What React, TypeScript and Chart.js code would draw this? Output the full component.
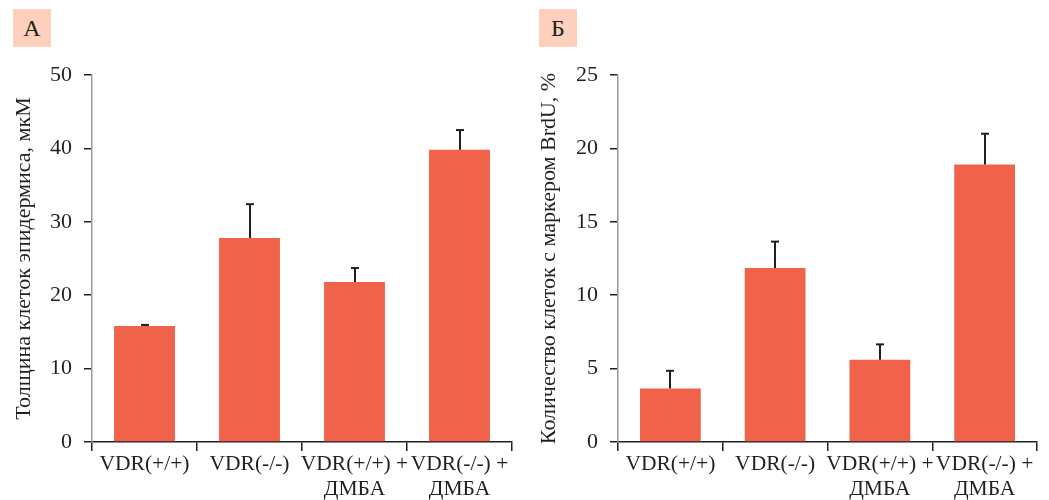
import React, { useEffect, useRef } from "react";
import { Chart, registerables } from "chart.js";

Chart.register(...registerables);

const categories: (string | string[])[] = [
  "VDR(+/+)",
  "VDR(-/-)",
  ["VDR(+/+) +", "ДМБА"],
  ["VDR(-/-) +", "ДМБА"],
];

const thicknessValues = [15.8, 27.8, 21.8, 39.8];
const thicknessErrors = [0.15, 4.6, 1.9, 2.7];

const brduValues = [3.65, 11.85, 5.6, 18.9];
const brduErrors = [1.2, 1.8, 1.05, 2.1];

const thicknessTitle = "Толщина клеток эпидермиса, мкМ";
const brduTitle = "Количество клеток с маркером BrdU, %";

const FONT = "'Liberation Serif', 'Times New Roman', serif";
const TEXT = "#231f20";
const BAR = "#f0624a";
const LABEL_BG = "#fdd0be";

const errorBarPlugin = {
  id: "errbars",
  afterDatasetsDraw(chart: any, _args: any, opts: any) {
    const errs: number[] = opts.errors || [];
    const vals: number[] = chart.data.datasets[0].data;
    const meta = chart.getDatasetMeta(0);
    const ys = chart.scales.y;
    const ctx = chart.ctx;
    ctx.save();
    ctx.strokeStyle = TEXT;
    ctx.lineWidth = 2;
    meta.data.forEach((bar: any, i: number) => {
      const x = Math.round(bar.x);
      const y0 = ys.getPixelForValue(vals[i]);
      const y1 = ys.getPixelForValue(vals[i] + errs[i]);
      ctx.beginPath();
      ctx.moveTo(x, y0);
      ctx.lineTo(x, y1);
      ctx.stroke();
      ctx.beginPath();
      ctx.moveTo(x - 4, y1);
      ctx.lineTo(x + 4, y1);
      ctx.stroke();
    });
    ctx.restore();
  },
};

function BarPanel(props: {
  values: number[];
  errors: number[];
  max: number;
  step: number;
  title: string;
  yWidth: number;
}) {
  const ref = useRef<HTMLCanvasElement>(null);
  useEffect(() => {
    if (!ref.current) return;
    const chart = new Chart(ref.current, {
      type: "bar",
      data: {
        labels: categories,
        datasets: [
          {
            data: props.values,
            backgroundColor: BAR,
            borderWidth: 0,
            categoryPercentage: 1,
            barPercentage: 0.58,
          },
        ],
      },
      options: {
        responsive: false,
        animation: false,
        layout: { padding: { left: 0, right: 12, top: 75, bottom: 0 } },
        plugins: {
          legend: { display: false },
          tooltip: { enabled: false },
          errbars: { errors: props.errors },
        } as any,
        scales: {
          x: {
            offset: true,
            grid: {
              display: true,
              drawOnChartArea: false,
              drawTicks: true,
              tickLength: 9,
              offset: true,
              color: TEXT,
              lineWidth: 1.5,
            },
            border: { display: true, color: TEXT, width: 1.5 },
            ticks: {
              color: TEXT,
              font: { family: FONT, size: 21.5, lineHeight: 1.2 },
              padding: 0,
              maxRotation: 0,
              autoSkip: false,
            },
            afterFit: (scale: any) => {
              scale.height = 58;
            },
          },
          y: {
            min: 0,
            max: props.max,
            grid: {
              display: true,
              drawOnChartArea: false,
              drawTicks: true,
              tickLength: 8,
              color: TEXT,
              lineWidth: 1.5,
            },
            border: { display: true, color: "#9a9a9a", width: 1.5 },
            ticks: {
              stepSize: props.step,
              color: TEXT,
              font: { family: FONT, size: 22 },
              padding: 12,
            },
            title: {
              display: true,
              text: props.title,
              color: TEXT,
              font: { family: FONT, size: 22 },
              padding: { top: 11, bottom: 0 },
            },
            afterFit: (scale: any) => {
              scale.width = props.yWidth;
            },
          },
        },
      },
      plugins: [errorBarPlugin],
    } as any);
    return () => chart.destroy();
  }, []);
  return (
    <canvas
      ref={ref}
      width={524}
      height={500}
      style={{ width: 524, height: 500, display: "block" }}
    />
  );
}

function PanelLabel(props: { text: string; left: number }) {
  return (
    <div
      style={{
        position: "absolute",
        left: props.left,
        top: 9,
        width: 38,
        height: 38,
        background: LABEL_BG,
        color: TEXT,
        fontFamily: FONT,
        fontSize: 24,
        lineHeight: "38px",
        textAlign: "center",
      }}
    >
      {props.text}
    </div>
  );
}

export default function App() {
  return (
    <div
      style={{
        position: "absolute",
        left: 0,
        top: 0,
        width: 1049,
        height: 500,
        background: "#ffffff",
        overflow: "hidden",
      }}
    >
      <div style={{ position: "absolute", left: 0, top: 0 }}>
        <BarPanel
          values={thicknessValues}
          errors={thicknessErrors}
          max={50}
          step={10}
          title={thicknessTitle}
          yWidth={92}
        />
      </div>
      <div style={{ position: "absolute", left: 525, top: 0 }}>
        <BarPanel
          values={brduValues}
          errors={brduErrors}
          max={25}
          step={5}
          title={brduTitle}
          yWidth={93}
        />
      </div>
      <PanelLabel text="А" left={13} />
      <PanelLabel text="Б" left={539} />
    </div>
  );
}
